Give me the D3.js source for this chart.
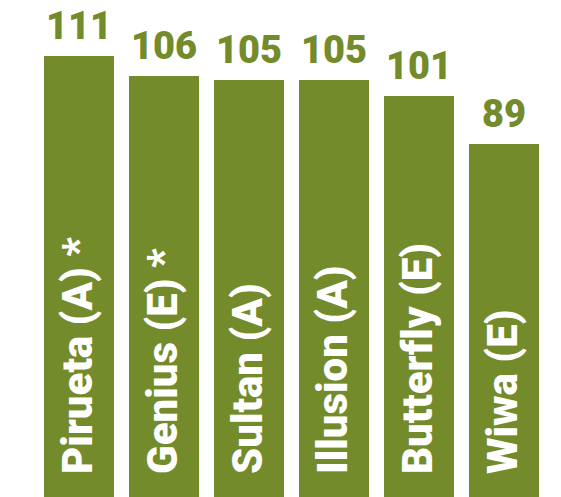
<!DOCTYPE html>
<html><head><meta charset="utf-8">
<script src="https://cdn.jsdelivr.net/npm/d3@7"></script>
<style>html,body{margin:0;padding:0;background:#fff;}svg{display:block;}</style>
</head><body>
<script>
const categories = ["Pirueta (A) *", "Genius (E) *", "Sultan (A)", "Illusion (A)", "Butterfly (E)", "Wiwa (E)"];
const values = [111, 106, 105, 105, 101, 89];

const W = 561, H = 497;
const green = "#748b2b";
const svg = d3.select("body").append("svg").attr("width", W).attr("height", H);

const x = d3.scaleBand().domain(categories).range([36.5, 546.5])
  .paddingInner(15/85).paddingOuter(7.5/85);
const y = d3.scaleLinear().domain([0, 111]).range([500, 56]);

const data = categories.map((c, i) => ({c, v: values[i]}));

svg.selectAll("rect.bar").data(data).join("rect")
  .attr("class", "bar")
  .attr("x", d => x(d.c)).attr("width", x.bandwidth())
  .attr("y", d => y(d.v)).attr("height", d => y(0) - y(d.v))
  .attr("fill", green);

svg.selectAll("text.val").data(data).join("text")
  .attr("class", "val")
  .attr("x", d => x(d.c) + x.bandwidth()/2)
  .attr("y", d => y(d.v) - 17)
  .attr("text-anchor", "middle")
  .attr("font-family", "Roboto")
  .attr("font-weight", 900)
  .attr("font-size", 38)
  .attr("fill", green)
  .text(d => d.v);

svg.selectAll("text.lab").data(data).join("text")
  .attr("class", "lab")
  .attr("transform", d => `translate(${x(d.c) + x.bandwidth()/2 + 13},474) rotate(-90)`)
  .attr("text-anchor", "start")
  .attr("font-family", "Roboto")
  .attr("font-weight", 900)
  .attr("font-size", 42)
  .style("font-variant-ligatures", "none")
  .attr("fill", "#fff")
  .text(d => d.c);
</script>
</body></html>
